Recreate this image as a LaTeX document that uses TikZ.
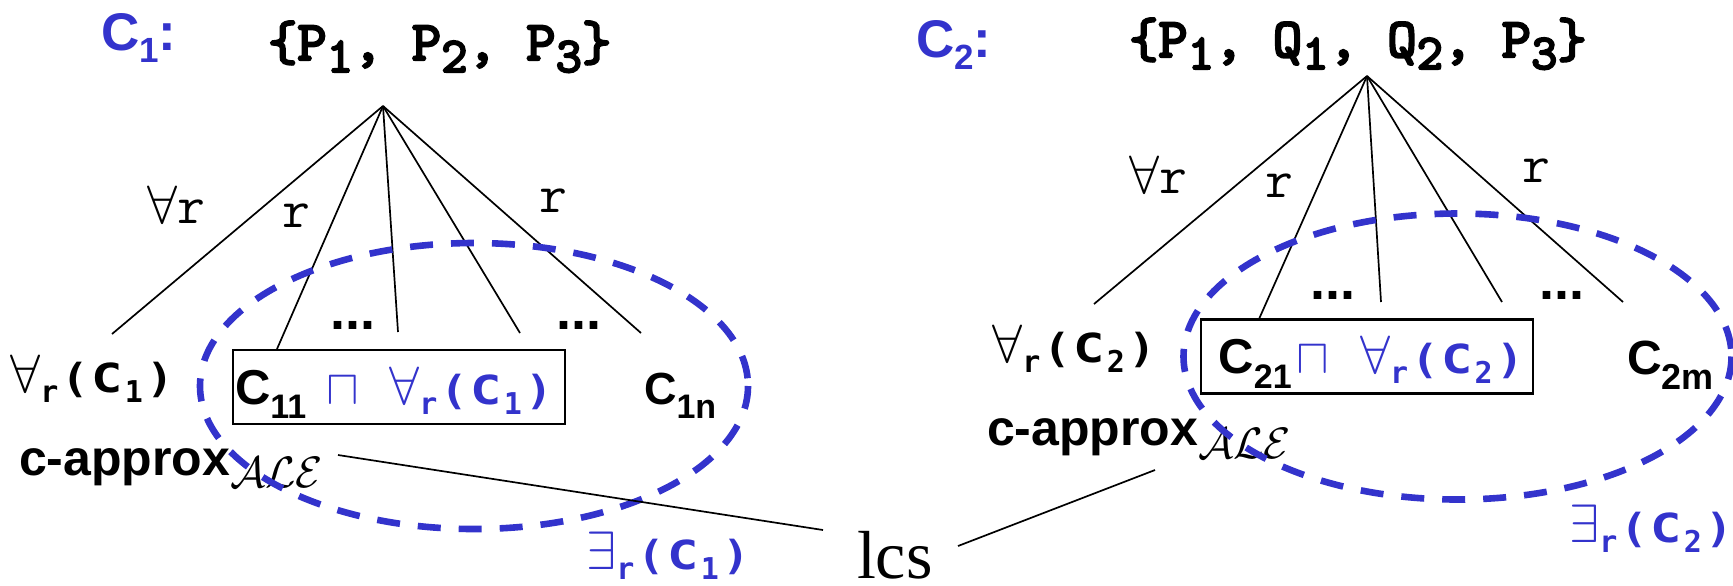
\documentclass[tikz,border=0pt]{standalone}
\usepackage{fix-cm}
\usepackage{graphicx}
\usepackage{fontspec}
\newfontfamily\lsans{Liberation Sans}
\newfontfamily\dmono{DejaVu Sans Mono}
\newfontfamily\lserif{Liberation Serif}
\newfontfamily\ttbold{lmmono10-regular.otf}[FakeBold=4]
\definecolor{myblue}{RGB}{51,51,204}
\newcommand{\setfs}[1]{\fontsize{#1pt}{#1pt}\selectfont}
\newcommand{\lowsub}[3]{\raisebox{-#1}{\fontsize{#2}{#2}\selectfont #3}}
\newcommand{\gl}[2]{\makebox[#1][c]{#2}}
\newcommand{\qrc}[2]{{\setfs{27}\gl{14.5pt}{$#1$}}{\dmono\bfseries\gl{9.5pt}{\lowsub{5pt}{15pt}{r}}\setfs{20}\gl{16.5pt}{\scalebox{1.15}[1]{(}}\gl{15.5pt}{\scalebox{1.3}[1]{C}}\gl{11pt}{\lowsub{5pt}{15pt}{#2}}\gl{15.5pt}{\scalebox{1.15}[1]{)}}}}
\newcommand{\tsub}[1]{\lowsub{6pt}{25pt}{#1}}
\begin{document}
\begin{tikzpicture}[x=0.5pt,y=-0.5pt,
  txt/.style={inner sep=0pt,outer sep=0pt,anchor=base west},
  edge/.style={line width=0.85pt,black},
  oval/.style={draw=myblue,line width=3.3pt,dash pattern=on 11.5pt off 9pt},
  boxn/.style={draw,line width=1.1pt,minimum width=166pt,minimum height=37pt,text width=164pt,align=left,inner xsep=1pt,inner ysep=0pt,text height=20pt,text depth=3pt},
  dots/.style={txt,font=\lsans\bfseries\setfs{27}}]
\useasboundingbox (0,0) rectangle (1733,585);
\fill[white] (0,0) rectangle (1733,585);

% ---------- left tree ----------
\node[txt,text=myblue] (c1) at (101,50) {\lsans\bfseries\setfs{26.5}C\lowsub{6pt}{17.5pt}{1}:};
\node[txt] (set1) at (268,60) {\ttbold\setfs{28}\{P\tsub{1}, P\tsub{2}, P\tsub{3}\}};
\coordinate (a1) at (383,106);
\coordinate (e11) at (112,334);
\coordinate (e12) at (277,349);
\coordinate (e13) at (398,332);
\coordinate (e14) at (520,333);
\coordinate (e15) at (641,333);
\foreach \e in {e11,e12,e13,e14,e15} \draw[edge] (a1) -- (\e);
\node[txt] (l11) at (147,223) {\setfs{27}$\forall$\ttfamily r};
\node[txt] (l12) at (282,227) {\ttfamily\setfs{27}r};
\node[txt] (l13) at (539,212) {\ttfamily\setfs{27}r};
\node[dots] (d11) at (330,329) {...};
\node[dots] (d12) at (556,329) {...};
\node[txt] (all1) at (11,392) {\qrc{\forall}{1}};
\node[boxn] (b1) at (399,387) {\lsans\bfseries\setfs{24.5}C\lowsub{7pt}{17pt}{11}\hspace{10pt}{\color{myblue}$\sqcap$}\hspace{15.4pt}{\color{myblue}\qrc{\forall}{1}}};
\node[txt] (c1n) at (644,404) {\lsans\bfseries\setfs{22.5}C\lowsub{7pt}{17pt}{1n}};
\node[txt] (ca1) at (19,475) {\lsans\bfseries\setfs{25}c-approx\lowsub{6pt}{22pt}{$\mathcal{ALE}$}};
\node[txt,text=myblue] (ex1) at (587,569) {\qrc{\exists}{1}};
\draw[oval] (474,386) ellipse [x radius=274, y radius=143];

% ---------- lcs ----------
\node[txt,text depth=0pt] (lcs) at (857,578) {\lserif\setfs{34}lcs};
\coordinate (ca1e) at (338,455);
\coordinate (lcsw) at (823,530);
\coordinate (ca2e) at (1155,470);
\coordinate (lcse) at (958,546);
\draw[edge] (ca1e) -- (lcsw);
\draw[edge] (ca2e) -- (lcse);

% ---------- right tree ----------
\node[txt,text=myblue] (c2) at (916,57) {\lsans\bfseries\setfs{26.5}C\lowsub{6pt}{17.5pt}{2}:};
\node[txt] (set2) at (1129,57) {\ttbold\setfs{28}\{P\tsub{1}, Q\tsub{1}, Q\tsub{2}, P\tsub{3}\}};
\coordinate (a2) at (1367,76);
\coordinate (e21) at (1094,304);
\coordinate (e22) at (1259,319);
\coordinate (e23) at (1381,302);
\coordinate (e24) at (1502,302);
\coordinate (e25) at (1623,302);
\foreach \e in {e21,e22,e23,e24,e25} \draw[edge] (a2) -- (\e);
\node[txt] (l21) at (1129,193) {\setfs{27}$\forall$\ttfamily r};
\node[txt] (l22) at (1265,197) {\ttfamily\setfs{27}r};
\node[txt] (l23) at (1522,182) {\ttfamily\setfs{27}r};
\node[dots] (d21) at (1310,299) {...};
\node[dots] (d22) at (1539,299) {...};
\node[txt] (all2) at (993,362) {\qrc{\forall}{2}};
\node[boxn] (b2) at (1367,356.5) {\lsans\bfseries\setfs{24.5}\hspace{7.75pt}C\lowsub{7.5pt}{17pt}{21}\hspace{2.5pt}{\color{myblue}$\sqcap$}\hspace{15.6pt}{\color{myblue}\qrc{\forall}{2}}};
\node[txt] (c2m) at (1627,374) {\lsans\bfseries\setfs{24}C\lowsub{7.5pt}{18pt}{2m}};
\node[txt] (ca2) at (987,445) {\lsans\bfseries\setfs{25}c-approx\lowsub{6.5pt}{22pt}{$\mathcal{ALE}$}};
\node[txt,text=myblue] (ex2) at (1570,542) {\qrc{\exists}{2}};
\draw[oval] (1457.5,356.5) ellipse [x radius=274, y radius=143];
\end{tikzpicture}
\end{document}
